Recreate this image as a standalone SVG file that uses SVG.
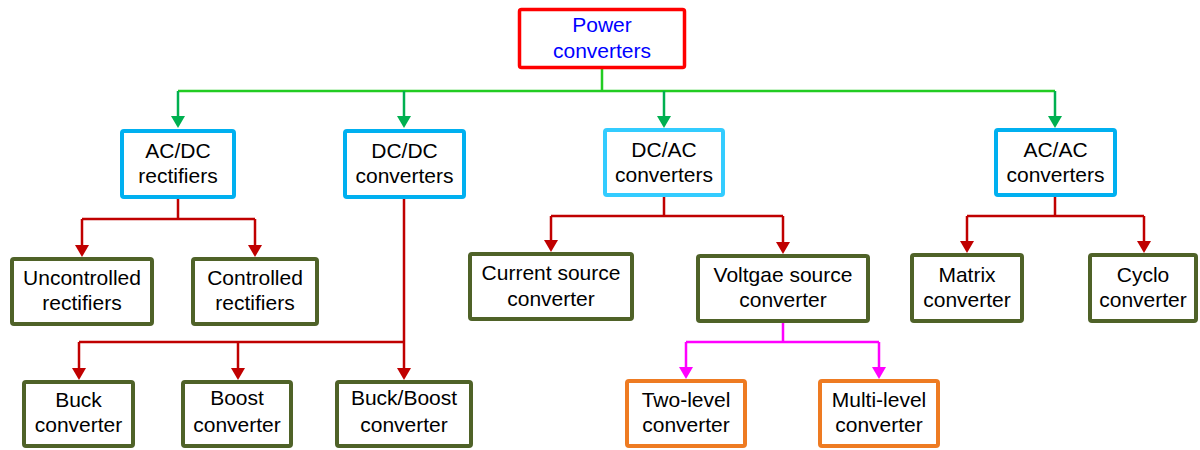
<svg xmlns="http://www.w3.org/2000/svg" width="1200" height="450" viewBox="0 0 1200 450">
<style>
  text { font-family: "Liberation Sans", Arial, sans-serif; font-size: 21px; text-anchor: middle; fill: #000; }
  .node rect { fill: #fff; stroke-width: 4; }
  .root rect { stroke: #ff0000; stroke-width: 3.5; }
  .root text { fill: #0000ff; }
  .l1 rect { stroke: #00b0f0; }
  .l1b rect { stroke: #33ccff; }
  .l2 rect { stroke: #4f6228; }
  .l3 rect { stroke: #ee7b22; }
  .conn path { fill: none; stroke-width: 2.5; }
  .g path { stroke: #00b050; }
  .g path.h { stroke: #22cc22; }
  .r path { stroke: #c00000; }
  .m path { stroke: #ff00ff; }
</style>
<defs>
  <marker id="ag" viewBox="0 0 12 14" refX="6" refY="7" markerWidth="12" markerHeight="14" markerUnits="userSpaceOnUse" orient="auto"><path d="M0,0 L12,7 L0,14 z" fill="#00b050"/></marker>
  <marker id="ar" viewBox="0 0 12 14" refX="6" refY="7" markerWidth="12" markerHeight="14" markerUnits="userSpaceOnUse" orient="auto"><path d="M0,0 L12,7 L0,14 z" fill="#c00000"/></marker>
  <marker id="am" viewBox="0 0 12 14" refX="6" refY="7" markerWidth="12" markerHeight="14" markerUnits="userSpaceOnUse" orient="auto"><path d="M0,0 L12,7 L0,14 z" fill="#ff00ff"/></marker>
</defs>

<g id="connectors" class="conn">
  <g class="g">
    <path class="h" d="M602,69 V91 M178,91 H1055"/>
    <path d="M178,91 V122" marker-end="url(#ag)"/>
    <path d="M404,91 V122" marker-end="url(#ag)"/>
    <path d="M664,91 V122" marker-end="url(#ag)"/>
    <path d="M1055,91 V122" marker-end="url(#ag)"/>
  </g>
  <g class="r">
    <path d="M178,199 V219 M82,219 H255"/>
    <path d="M82,219 V251" marker-end="url(#ar)"/>
    <path d="M255,219 V251" marker-end="url(#ar)"/>
    <path d="M404,199 V342 M79,342 H404"/>
    <path d="M79,342 V374" marker-end="url(#ar)"/>
    <path d="M238,342 V374" marker-end="url(#ar)"/>
    <path d="M404,342 V374" marker-end="url(#ar)"/>
    <path d="M664,197 V216 M551,216 H783"/>
    <path d="M551,216 V246" marker-end="url(#ar)"/>
    <path d="M783,216 V248" marker-end="url(#ar)"/>
    <path d="M1055,197 V216 M967,216 H1144"/>
    <path d="M967,216 V247" marker-end="url(#ar)"/>
    <path d="M1144,216 V247" marker-end="url(#ar)"/>
  </g>
  <g class="m">
    <path d="M783,323 V342 M686,342 H879"/>
    <path d="M686,342 V373" marker-end="url(#am)"/>
    <path d="M879,342 V373" marker-end="url(#am)"/>
  </g>
</g>

<g id="power" class="node root">
  <rect x="519.5" y="9.5" width="165" height="58" rx="2"/>
  <text x="602" y="32">Power</text>
  <text x="602" y="58">converters</text>
</g>

<g id="acdc" class="node l1">
  <rect x="122" y="131" width="112" height="66" rx="2"/>
  <text x="178" y="158">AC/DC</text>
  <text x="178" y="183">rectifiers</text>
</g>
<g id="dcdc" class="node l1">
  <rect x="345" y="131" width="119" height="66" rx="2"/>
  <text x="404.5" y="158">DC/DC</text>
  <text x="404.5" y="183">converters</text>
</g>
<g id="dcac" class="node l1b">
  <rect x="605" y="130" width="118" height="65" rx="2"/>
  <text x="664" y="157">DC/AC</text>
  <text x="664" y="182">converters</text>
</g>
<g id="acac" class="node l1">
  <rect x="996" y="130" width="119" height="65" rx="2"/>
  <text x="1055.5" y="157">AC/AC</text>
  <text x="1055.5" y="182">converters</text>
</g>

<g id="uncontrolled" class="node l2">
  <rect x="12" y="259" width="140" height="65" rx="2"/>
  <text x="82" y="285">Uncontrolled</text>
  <text x="82" y="310">rectifiers</text>
</g>
<g id="controlled" class="node l2">
  <rect x="193" y="259" width="124" height="65" rx="2"/>
  <text x="255" y="285">Controlled</text>
  <text x="255" y="310">rectifiers</text>
</g>
<g id="current" class="node l2">
  <rect x="470" y="254" width="162" height="65" rx="2"/>
  <text x="551" y="280">Current source</text>
  <text x="551" y="306">converter</text>
</g>
<g id="voltage" class="node l2">
  <rect x="698" y="256" width="170" height="65" rx="2"/>
  <text x="783" y="282">Voltgae source</text>
  <text x="783" y="307">converter</text>
</g>
<g id="matrix" class="node l2">
  <rect x="912" y="255" width="110" height="66" rx="2"/>
  <text x="967" y="282">Matrix</text>
  <text x="967" y="307">converter</text>
</g>
<g id="cyclo" class="node l2">
  <rect x="1090" y="255" width="106" height="66" rx="2"/>
  <text x="1143" y="282">Cyclo</text>
  <text x="1143" y="307">converter</text>
</g>

<g id="buck" class="node l2">
  <rect x="24" y="382" width="109" height="64" rx="2"/>
  <text x="78.5" y="407">Buck</text>
  <text x="78.5" y="432">converter</text>
</g>
<g id="boost" class="node l2">
  <rect x="183" y="382" width="108" height="64" rx="2"/>
  <text x="237" y="405">Boost</text>
  <text x="237" y="432">converter</text>
</g>
<g id="buckboost" class="node l2">
  <rect x="337" y="382" width="134" height="64" rx="2"/>
  <text x="404" y="405">Buck/Boost</text>
  <text x="404" y="432">converter</text>
</g>

<g id="twolevel" class="node l3">
  <rect x="627" y="381" width="118" height="65" rx="2"/>
  <text x="686" y="407">Two-level</text>
  <text x="686" y="432">converter</text>
</g>
<g id="multilevel" class="node l3">
  <rect x="820" y="381" width="118" height="65" rx="2"/>
  <text x="879" y="407">Multi-level</text>
  <text x="879" y="432">converter</text>
</g>
</svg>
